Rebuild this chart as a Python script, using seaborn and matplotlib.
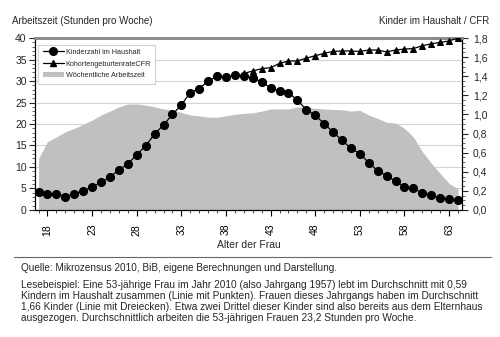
import numpy as np
import pandas as pd
import matplotlib
matplotlib.use("Agg")
import matplotlib.pyplot as plt
from matplotlib.ticker import MultipleLocator, FixedLocator, FuncFormatter
from matplotlib.lines import Line2D
from matplotlib.patches import Patch
import seaborn as sns

# Age of the woman (years)
ages = list(range(17, 65))

# Average number of children living in the household
kinder_haushalt = [0.19, 0.17, 0.17, 0.14, 0.17, 0.20, 0.24, 0.29, 0.345, 0.42,
                   0.48, 0.58, 0.67, 0.795, 0.89, 1.00, 1.10, 1.23, 1.27, 1.35,
                   1.40, 1.39, 1.41, 1.40, 1.385, 1.34, 1.28, 1.245, 1.23, 1.15,
                   1.05, 0.99, 0.905, 0.815, 0.73, 0.645, 0.59, 0.495, 0.41, 0.36,
                   0.30, 0.245, 0.23, 0.175, 0.155, 0.12, 0.11, 0.10]

# Cohort fertility rate (CFR), ages 40-64
cfr_ages = list(range(40, 65))
cfr = [1.43, 1.455, 1.48, 1.49, 1.535, 1.56, 1.56, 1.59, 1.615, 1.64,
       1.66, 1.665, 1.665, 1.66, 1.675, 1.675, 1.655, 1.675, 1.685, 1.69,
       1.72, 1.74, 1.755, 1.77, 1.80]

# Average weekly working hours
arbeitszeit = [12.0, 15.9, 17.0, 18.2, 19.0, 19.9, 20.9, 22.1, 23.0, 24.0,
               24.65, 24.65, 24.4, 24.0, 23.5, 23.3, 22.7, 22.1, 21.9, 21.6,
               21.6, 21.9, 22.25, 22.5, 22.6, 23.0, 23.5, 23.5, 23.5, 24.0,
               23.8, 23.65, 23.5, 23.4, 23.3, 23.0, 23.2, 22.1, 21.3, 20.4,
               20.2, 19.0, 17.0, 13.6, 10.9, 8.5, 6.2, 4.9]

x_ticks = [18, 23, 28, 33, 38, 43, 48, 53, 58, 63]

df_k = pd.DataFrame({"Alter": ages, "Kinder": kinder_haushalt})
df_c = pd.DataFrame({"Alter": cfr_ages, "CFR": cfr})

sns.set_style("ticks")
plt.rcParams["font.family"] = ["Liberation Sans", "DejaVu Sans"]

fig = plt.figure(figsize=(5.0, 3.37), dpi=100)
ax = fig.add_axes([0.07, 0.377, 0.854, 0.51])
ax2 = ax.twinx()

# working hours area on the left axis
ax.set_ylim(0, 40)
ax.set_xlim(16.6, 64.45)
for v in range(5, 40, 5):
    ax.axhline(v, color="#d4d4d4", lw=0.8, zorder=0)
ax.fill_between(ages, arbeitszeit, 0, color="#c0c0c0", lw=0, zorder=1)

# children and CFR lines on the right axis
ax2.set_ylim(0, 1.8)
sns.lineplot(data=df_k, x="Alter", y="Kinder", ax=ax2, color="black", lw=0.9,
             marker="o", markersize=5.8, markeredgecolor="black", zorder=4)
sns.lineplot(data=df_c, x="Alter", y="CFR", ax=ax2, color="black", lw=0.9,
             marker="^", markersize=5.0, markeredgecolor="black", zorder=3)
ax2.set_xlabel("")
ax2.set_ylabel("")
ax.set_xlabel("Alter der Frau", fontsize=7.5, labelpad=3)

# ticks
ax.xaxis.set_major_locator(FixedLocator(x_ticks))
ax.xaxis.set_minor_locator(MultipleLocator(1))
ax.yaxis.set_major_locator(MultipleLocator(5))
ax.yaxis.set_minor_locator(MultipleLocator(1))
ax2.yaxis.set_major_locator(MultipleLocator(0.2))
ax2.yaxis.set_minor_locator(MultipleLocator(0.05))
ax2.yaxis.set_major_formatter(FuncFormatter(lambda v, p: f"{v:.1f}".replace(".", ",")))
ax.tick_params(axis="x", which="major", labelsize=7.5, labelrotation=90,
               length=4, width=0.8, pad=6, colors="black")
ax.tick_params(axis="x", which="minor", length=2.5, width=0.6)
ax.tick_params(axis="y", which="major", labelsize=7.5, length=4, width=0.8, pad=2)
ax.tick_params(axis="y", which="minor", length=2, width=0.5)
ax2.tick_params(axis="y", which="major", labelsize=7.5, length=4, width=0.8, pad=4)
ax2.tick_params(axis="y", which="minor", length=2, width=0.5)

for a in (ax, ax2):
    for s in ("left", "right", "bottom"):
        a.spines[s].set_color("black")
        a.spines[s].set_linewidth(0.8)
    a.spines["top"].set_color("#8c8c8c")
    a.spines["top"].set_linewidth(2.0)
ax.set_zorder(0)
ax2.set_zorder(1)
ax2.patch.set_visible(False)

# legend
handles = [
    Line2D([], [], color="black", lw=0.9, marker="o", markersize=5.5),
    Line2D([], [], color="black", lw=0.9, marker="^", markersize=4.5),
    Patch(facecolor="#c0c0c0", edgecolor="none"),
]
labels = ["Kinderzahl im Haushalt", "KohortengeburtenrateCFR", "Wöchentliche Arbeitszeit"]
leg = ax2.legend(handles, labels, loc="upper left", bbox_to_anchor=(0.003, 0.975),
                 fontsize=5.2, frameon=True, fancybox=False, framealpha=1,
                 edgecolor="#d0d0d0", handlelength=2.9, handletextpad=0.25,
                 borderpad=0.6, labelspacing=0.65, borderaxespad=0.3)
leg.get_frame().set_linewidth(0.8)

# axis titles
fig.text(0.024, 0.928, "Arbeitszeit (Stunden pro Woche)", fontsize=7, ha="left", va="baseline")
fig.text(0.978, 0.928, "Kinder im Haushalt / CFR", fontsize=7, ha="right", va="baseline")

# source and reading example
fig.add_artist(Line2D([0.028, 0.982], [0.238, 0.238], color="#666666", lw=0.8))
fig.text(0.042, 0.197, "Quelle: Mikrozensus 2010, BiB, eigene Berechnungen und Darstellung.",
         fontsize=7.2, ha="left", va="baseline")
note = ("Lesebeispiel: Eine 53-jährige Frau im Jahr 2010 (also Jahrgang 1957) lebt im Durchschnitt mit 0,59\n"
        "Kindern im Haushalt zusammen (Linie mit Punkten). Frauen dieses Jahrgangs haben im Durchschnitt\n"
        "1,66 Kinder (Linie mit Dreiecken). Etwa zwei Drittel dieser Kinder sind also bereits aus dem Elternhaus\n"
        "ausgezogen. Durchschnittlich arbeiten die 53-jährigen Frauen 23,2 Stunden pro Woche.")
fig.text(0.042, 0.17, note, fontsize=7.3, ha="left", va="top", linespacing=1.13)

fig.savefig("out.png", dpi=100)
